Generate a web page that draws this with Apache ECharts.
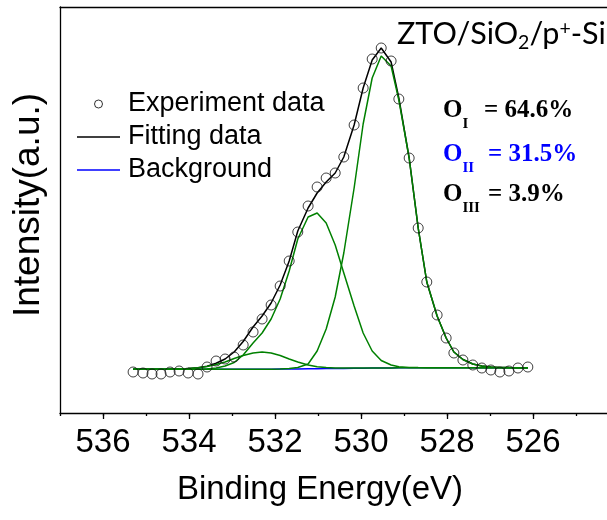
<!DOCTYPE html>
<html>
<head>
<meta charset="utf-8">
<script src="https://cdn.jsdelivr.net/npm/echarts@6/dist/echarts.min.js"></script>
<style>html,body{margin:0;padding:0;background:#fff;}#c{width:607px;height:520px;}</style>
</head>
<body>
<div id="c"></div>
<script>
// Binding energy (eV) of each measured point
const energy = [535.30,535.07,534.86,534.65,534.44,534.23,534.02,533.79,533.58,533.37,533.16,532.95,532.74,532.51,532.30,532.09,531.88,531.67,531.47,531.23,531.02,530.81,530.60,530.40,530.16,529.95,529.74,529.53,529.30,529.12,528.88,528.67,528.47,528.23,528.02,527.84,527.63,527.40,527.19,526.98,526.77,526.56,526.35,526.12];
// Intensity (a.u.)
const experiment = [-3,-4,-5,-5,-3,-2,-4,-5,2,8,10,12,24,37,50,64,83,108,137,163,182,191,196,212,244,281,310,321,308,270,211,141,87,54,31,16,9,4,1,-1,-3,-2,1,2];
const fitting = [-0.3,-0.3,-0.3,-0.2,-0.1,0.2,0.6,1.2,2.8,5.8,10,17,27.5,42,53,66,84,108,138,161,176,187,196,212,244,281,309,321,307,271,211,141,87,53,31,17,9.5,5,3,2,1.6,1.4,1.3,1.3];
const background = [-0.3,-0.3,-0.3,-0.3,-0.3,-0.3,-0.3,-0.3,-0.3,-0.3,-0.3,-0.3,-0.3,-0.3,-0.2,-0.2,-0.1,0,0.1,0.2,0.3,0.4,0.5,0.6,0.7,0.8,0.9,1.0,1.1,1.15,1.2,1.25,1.3,1.3,1.3,1.3,1.3,1.3,1.3,1.3,1.3,1.3,1.3,1.3];
const peakOI = [-0.3,-0.3,-0.3,-0.3,-0.3,-0.3,-0.3,-0.3,-0.3,-0.3,-0.3,-0.3,-0.3,-0.3,-0.2,-0.2,-0.1,0.5,1.5,5,18,40,72,116,181,245,291,313,303,269,211,141,87,53,31,17,9.5,5,3,2,1.6,1.4,1.3,1.3];
const peakOII = [-0.3,-0.3,-0.3,-0.3,-0.3,-0.3,-0.3,-0.3,0,1,3,6.5,14,26,36,50,70,98,130,152,156,146,124,96,63,36,18,8.5,4,2.2,1.6,1.4,1.3,1.3,1.3,1.3,1.3,1.3,1.3,1.3,1.3,1.3,1.3,1.3];
const peakOIII = [-0.3,-0.3,-0.3,-0.2,-0.1,0.2,0.6,1.2,2.5,4.5,7,10.5,13.5,16,17,16,13.5,10,7,4,2.2,1.4,1.0,0.9,0.9,0.9,1.0,1.05,1.1,1.15,1.2,1.25,1.3,1.3,1.3,1.3,1.3,1.3,1.3,1.3,1.3,1.3,1.3,1.3];
const xTickLabels = [526,528,530,532,534,536];
const ratios = [
  {sub:'I', text:'= 64.6%', color:'#000000'},
  {sub:'II', text:'= 31.5%', color:'#0000ff'},
  {sub:'III', text:'= 3.9%', color:'#000000'}
];

const pairs = arr => energy.map((e, i) => [e, arr[i]]);
const chart = echarts.init(document.getElementById('c'), null, {renderer:'canvas'});
const sans = 'Liberation Sans';
const serif = 'Liberation Serif';
const green = '#008000';
const lineIcon = 'path://M0,0H43V1.5H0Z';

const ratioRows = [111, 155, 195];
const ratioEqX = [484, 488, 488];
const graphics = [
  {type:'text', x:320, y:490, style:{text:'Binding Energy(eV)', font:'33px "Liberation Sans"', fill:'#000', align:'center', verticalAlign:'middle'}},
  {type:'text', x:29, y:205, rotation:Math.PI/2, style:{text:'Intensity(a.u.)', font:'37px "Liberation Sans"', fill:'#000', align:'center', verticalAlign:'middle'}},
  {type:'text', x:397, y:34, style:{
    text:'{a|ZTO/SiO}{b|2}{a|/p}{c|+}{a|-Si}', align:'left', verticalAlign:'middle', fill:'#000',
    rich:{
      a:{fontFamily:'Lato', fontSize:30.5, lineHeight:34, fill:'#000'},
      b:{fontFamily:'Lato', fontSize:19.5, lineHeight:34, verticalAlign:'top', padding:[16,0,0,0], fill:'#000'},
      c:{fontFamily:'Lato', fontSize:19.5, lineHeight:34, verticalAlign:'top', padding:[2,0,0,0], fill:'#000'}
    }}}
];
ratios.forEach((r, i) => {
  graphics.push({type:'text', x:443, y:ratioRows[i], style:{
    text:'{o|O}{s|' + r.sub + '}', align:'left', verticalAlign:'middle', fill:r.color,
    rich:{
      o:{fontFamily:serif, fontWeight:'bold', fontSize:25, lineHeight:30, fill:r.color},
      s:{fontFamily:serif, fontWeight:'bold', fontSize:15, lineHeight:30, verticalAlign:'top', padding:[21,0,0,0], fill:r.color}
    }}});
  graphics.push({type:'text', x:ratioEqX[i], y:ratioRows[i], style:{text:r.text, font:'bold 25px "Liberation Serif"', fill:r.color, align:'left', verticalAlign:'middle'}});
});

const option = {
  animation:false,
  backgroundColor:'#fff',
  grid:{left:60, top:7, width:559, height:406, containLabel:false, outerBoundsMode:'none'},
  legend:{
    orient:'vertical', left:77, top:89, padding:0, itemWidth:43, itemHeight:8, itemGap:3,
    textStyle:{fontFamily:sans, fontSize:27, lineHeight:30, color:'#000', padding:[0,0,0,3]},
    data:[
      {name:'Experiment data', icon:'circle', itemStyle:{color:'#fff', borderColor:'#000', borderWidth:1}},
      {name:'Fitting data', icon:lineIcon, itemStyle:{color:'#000'}},
      {name:'Background', icon:lineIcon, itemStyle:{color:'#0000ff'}}
    ]
  },
  xAxis:[
    {type:'value', position:'bottom', min:524, max:537, interval:2, inverse:true,
     axisLine:{show:true, onZero:false, lineStyle:{color:'#000', width:1.3}},
     axisTick:{show:true, length:6, lineStyle:{color:'#000', width:1.3}},
     axisLabel:{show:true, margin:13, fontFamily:sans, fontSize:33, color:'#000', showMinLabel:false, showMaxLabel:false,
       formatter:v => xTickLabels.indexOf(v) >= 0 ? String(v) : ''},
     splitLine:{show:false}},
    {type:'value', position:'bottom', min:524, max:537, interval:1, inverse:true,
     axisLine:{show:false, onZero:false}, axisTick:{show:true, length:3, lineStyle:{color:'#000', width:1.3}},
     axisLabel:{show:false}, splitLine:{show:false}},
    {type:'value', position:'top', min:524, max:537, inverse:true,
     axisLine:{show:true, onZero:false, lineStyle:{color:'#000', width:1.3}}, axisTick:{show:false}, axisLabel:{show:false}, splitLine:{show:false}}
  ],
  yAxis:{type:'value', min:-44, max:362, position:'left',
    axisLine:{show:true, onZero:false, lineStyle:{color:'#000', width:1.3}}, axisTick:{show:false}, axisLabel:{show:false}, splitLine:{show:false}},
  series:[
    {name:'Background', type:'line', data:pairs(background), symbol:'none', z:2, lineStyle:{color:'#0000ff', width:1.5}, itemStyle:{color:'#0000ff'}},
    {name:'Fitting data', type:'line', data:pairs(fitting), symbol:'none', z:3, lineStyle:{color:'#000', width:1.5}, itemStyle:{color:'#000'}},
    {name:'O I', type:'line', data:pairs(peakOI), symbol:'none', z:4, lineStyle:{color:green, width:1.5}},
    {name:'O II', type:'line', data:pairs(peakOII), symbol:'none', z:4, lineStyle:{color:green, width:1.5}},
    {name:'O III', type:'line', data:pairs(peakOIII), symbol:'none', z:4, lineStyle:{color:green, width:1.5}},
    {name:'Experiment data', type:'scatter', data:pairs(experiment), symbol:'circle', symbolSize:10, z:5,
     itemStyle:{color:'rgba(0,0,0,0)', borderColor:'#111', borderWidth:1}}
  ],
  graphic:graphics
};
chart.setOption(option);
</script>
</body>
</html>
